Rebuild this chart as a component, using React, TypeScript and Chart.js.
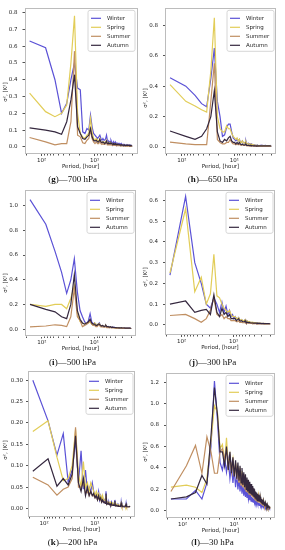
import React, { useEffect, useRef } from 'react';
import { Chart, registerables } from 'chart.js';

Chart.register(...registerables);

// ---------------- DATA ----------------
const PERIODS = [
  168, 84, 56, 42, 33.6, 28, 24, 21, 18.67, 16.8,
  15.27, 14, 12.92, 12, 11.2, 10.5, 9.88, 9.33, 8.84, 8.4,
  8, 7.64, 7.3, 7, 6.72, 6.46, 6.22, 6, 5.79, 5.6,
  5.42, 5.25, 5.09, 4.94, 4.8, 4.67, 4.54, 4.42, 4.31, 4.2,
  4.1, 4, 3.91, 3.82, 3.73, 3.65, 3.57, 3.5, 3.43, 3.36,
  3.29, 3.23, 3.17, 3.11, 3.05, 3, 2.95, 2.9, 2.85, 2.8,
  2.75, 2.71, 2.67, 2.63, 2.58, 2.55, 2.51, 2.47, 2.43, 2.4,
  2.37, 2.33, 2.3, 2.27, 2.24, 2.21, 2.18, 2.15, 2.13, 2.1,
  2.07, 2.05, 2.02, 2.0,
];

const SEASONS = ['Winter', 'Spring', 'Summer', 'Autumn'];
const PANEL_LETTERS = ['g', 'h', 'i', 'j', 'k', 'l'];
const PANEL_LEVELS = ['700 hPa', '650 hPa', '500 hPa', '300 hPa', '200 hPa', '30 hPa'];
const X_LABEL = 'Period, [hour]';
const Y_LABEL = 'σ², [K²]';
const X_MAJOR = [100, 10];
const X_MAJOR_LABELS = ['10²', '10¹'];
const X_MINOR = [200, 90, 80, 70, 60, 50, 40, 30, 20, 9, 8, 7, 6, 5, 4, 3, 2];

// (g) 700 hPa
const G_WINTER = [
  0.63, 0.59, 0.40, 0.20, 0.26, 0.40, 0.50, 0.35, 0.34, 0.09,
  0.08, 0.11, 0.10, 0.19, 0.12, 0.08, 0.07, 0.06, 0.05, 0.06,
  0.07, 0.05, 0.04, 0.05, 0.04, 0.04, 0.05, 0.07, 0.04, 0.03,
  0.035, 0.03, 0.03, 0.04, 0.03, 0.025, 0.02, 0.03, 0.02, 0.025,
  0.03, 0.02, 0.022, 0.02, 0.018, 0.022, 0.02, 0.018, 0.015, 0.02,
  0.018, 0.015, 0.02, 0.015, 0.014, 0.018, 0.014, 0.015, 0.012, 0.015,
  0.012, 0.014, 0.012, 0.012, 0.01, 0.012, 0.01, 0.012, 0.01, 0.01,
  0.012, 0.01, 0.01, 0.01, 0.012, 0.01, 0.009, 0.01, 0.008, 0.01,
  0.01, 0.008, 0.01, 0.009,
];
const G_SPRING = [
  0.32, 0.21, 0.18, 0.20, 0.25, 0.50, 0.78, 0.20, 0.08, 0.06,
  0.05, 0.07, 0.08, 0.17, 0.09, 0.05, 0.04, 0.05, 0.04, 0.03,
  0.05, 0.03, 0.025, 0.03, 0.03, 0.025, 0.03, 0.04, 0.02, 0.02,
  0.025, 0.02, 0.02, 0.025, 0.02, 0.018, 0.015, 0.02, 0.015, 0.018,
  0.02, 0.015, 0.015, 0.014, 0.013, 0.015, 0.013, 0.012, 0.011, 0.013,
  0.012, 0.011, 0.013, 0.011, 0.01, 0.012, 0.01, 0.01, 0.009, 0.01,
  0.009, 0.01, 0.009, 0.009, 0.008, 0.009, 0.008, 0.009, 0.008, 0.008,
  0.009, 0.008, 0.008, 0.008, 0.009, 0.008, 0.007, 0.008, 0.007, 0.008,
  0.008, 0.007, 0.008, 0.008,
];
const G_SUMMER = [
  0.056, 0.03, 0.012, 0.02, 0.02, 0.15, 0.57, 0.07, 0.06, 0.025,
  0.02, 0.04, 0.05, 0.10, 0.05, 0.03, 0.02, 0.03, 0.02, 0.02,
  0.04, 0.02, 0.015, 0.02, 0.015, 0.015, 0.02, 0.03, 0.012, 0.012,
  0.015, 0.012, 0.012, 0.015, 0.012, 0.01, 0.01, 0.012, 0.009, 0.01,
  0.012, 0.009, 0.009, 0.009, 0.008, 0.009, 0.008, 0.008, 0.007, 0.008,
  0.008, 0.007, 0.008, 0.007, 0.007, 0.008, 0.007, 0.007, 0.006, 0.007,
  0.006, 0.007, 0.006, 0.006, 0.006, 0.006, 0.005, 0.006, 0.005, 0.005,
  0.006, 0.005, 0.005, 0.005, 0.006, 0.005, 0.005, 0.005, 0.005, 0.005,
  0.005, 0.005, 0.005, 0.006,
];
const G_AUTUMN = [
  0.113, 0.10, 0.09, 0.075, 0.15, 0.28, 0.43, 0.12, 0.08, 0.05,
  0.045, 0.06, 0.07, 0.11, 0.06, 0.04, 0.035, 0.04, 0.03, 0.03,
  0.045, 0.03, 0.025, 0.03, 0.025, 0.02, 0.025, 0.035, 0.02, 0.02,
  0.025, 0.02, 0.02, 0.025, 0.02, 0.018, 0.016, 0.02, 0.015, 0.018,
  0.02, 0.016, 0.016, 0.015, 0.014, 0.016, 0.014, 0.013, 0.012, 0.014,
  0.013, 0.012, 0.014, 0.012, 0.011, 0.013, 0.011, 0.011, 0.01, 0.011,
  0.01, 0.011, 0.01, 0.01, 0.009, 0.01, 0.009, 0.01, 0.009, 0.009,
  0.01, 0.009, 0.009, 0.009, 0.01, 0.009, 0.008, 0.009, 0.008, 0.009,
  0.009, 0.008, 0.009, 0.009,
];

// (h) 650 hPa
const H_WINTER = [
  0.455, 0.40, 0.34, 0.285, 0.265, 0.45, 0.65, 0.30, 0.20, 0.07,
  0.08, 0.13, 0.15, 0.15, 0.10, 0.06, 0.05, 0.04, 0.05, 0.04,
  0.05, 0.03, 0.03, 0.04, 0.03, 0.025, 0.03, 0.04, 0.02, 0.02,
  0.025, 0.02, 0.02, 0.02, 0.015, 0.02, 0.015, 0.015, 0.012, 0.015,
  0.012, 0.012, 0.01, 0.012, 0.01, 0.01, 0.012, 0.01, 0.01, 0.008,
  0.01, 0.01, 0.008, 0.01, 0.008, 0.01, 0.008, 0.008, 0.01, 0.008,
  0.008, 0.01, 0.008, 0.008, 0.007, 0.008, 0.01, 0.008, 0.007, 0.008,
  0.008, 0.007, 0.008, 0.007, 0.008, 0.01, 0.007, 0.008, 0.007, 0.008,
  0.01, 0.008, 0.009, 0.012,
];
const H_SPRING = [
  0.41, 0.30, 0.27, 0.245, 0.23, 0.50, 0.85, 0.20, 0.12, 0.10,
  0.10, 0.14, 0.12, 0.12, 0.09, 0.07, 0.06, 0.05, 0.06, 0.04,
  0.05, 0.03, 0.03, 0.04, 0.03, 0.025, 0.03, 0.035, 0.02, 0.02,
  0.022, 0.018, 0.018, 0.02, 0.015, 0.018, 0.014, 0.015, 0.012, 0.014,
  0.012, 0.011, 0.01, 0.012, 0.01, 0.01, 0.011, 0.01, 0.009, 0.008,
  0.01, 0.009, 0.008, 0.009, 0.008, 0.009, 0.008, 0.008, 0.009, 0.008,
  0.008, 0.009, 0.008, 0.008, 0.007, 0.008, 0.009, 0.008, 0.007, 0.008,
  0.008, 0.007, 0.008, 0.007, 0.008, 0.009, 0.007, 0.008, 0.007, 0.008,
  0.009, 0.008, 0.008, 0.01,
];
const H_SUMMER = [
  0.032, 0.02, 0.015, 0.015, 0.015, 0.30, 0.55, 0.05, 0.03, 0.02,
  0.02, 0.03, 0.03, 0.05, 0.03, 0.02, 0.02, 0.015, 0.02, 0.015,
  0.02, 0.012, 0.012, 0.015, 0.01, 0.01, 0.012, 0.015, 0.008, 0.008,
  0.01, 0.008, 0.008, 0.009, 0.007, 0.008, 0.007, 0.007, 0.006, 0.007,
  0.006, 0.006, 0.006, 0.006, 0.005, 0.006, 0.005, 0.005, 0.005, 0.005,
  0.005, 0.005, 0.005, 0.005, 0.005, 0.005, 0.005, 0.005, 0.005, 0.005,
  0.005, 0.005, 0.005, 0.005, 0.005, 0.005, 0.005, 0.005, 0.005, 0.005,
  0.005, 0.005, 0.005, 0.005, 0.005, 0.005, 0.005, 0.005, 0.005, 0.005,
  0.005, 0.005, 0.005, 0.006,
];
const H_AUTUMN = [
  0.105, 0.07, 0.05, 0.07, 0.12, 0.20, 0.37, 0.10, 0.04, 0.03,
  0.05, 0.04, 0.06, 0.07, 0.04, 0.03, 0.03, 0.02, 0.03, 0.02,
  0.03, 0.02, 0.015, 0.02, 0.015, 0.012, 0.015, 0.02, 0.01, 0.01,
  0.012, 0.01, 0.01, 0.012, 0.009, 0.01, 0.009, 0.009, 0.008, 0.009,
  0.008, 0.008, 0.008, 0.008, 0.007, 0.008, 0.007, 0.007, 0.007, 0.007,
  0.007, 0.007, 0.007, 0.007, 0.007, 0.007, 0.007, 0.007, 0.007, 0.007,
  0.007, 0.007, 0.007, 0.007, 0.007, 0.007, 0.007, 0.007, 0.007, 0.007,
  0.007, 0.007, 0.007, 0.007, 0.007, 0.007, 0.007, 0.007, 0.007, 0.007,
  0.008, 0.007, 0.008, 0.008,
];

// (i) 500 hPa
const I_WINTER = [
  1.05, 0.85, 0.63, 0.46, 0.29, 0.40, 0.57, 0.30, 0.15, 0.10,
  0.06, 0.04, 0.07, 0.125, 0.06, 0.04, 0.05, 0.04, 0.03, 0.04,
  0.05, 0.03, 0.025, 0.03, 0.025, 0.02, 0.025, 0.03, 0.02, 0.02,
  0.022, 0.018, 0.018, 0.02, 0.016, 0.016, 0.015, 0.016, 0.014, 0.015,
  0.014, 0.013, 0.013, 0.013, 0.012, 0.012, 0.012, 0.012, 0.011, 0.011,
  0.011, 0.011, 0.01, 0.011, 0.01, 0.01, 0.01, 0.01, 0.01, 0.01,
  0.01, 0.01, 0.009, 0.01, 0.009, 0.009, 0.009, 0.009, 0.009, 0.009,
  0.009, 0.009, 0.009, 0.008, 0.009, 0.008, 0.008, 0.009, 0.008, 0.008,
  0.008, 0.008, 0.009, 0.008,
];
const I_SPRING = [
  0.20, 0.185, 0.20, 0.20, 0.165, 0.25, 0.35, 0.13, 0.06, 0.05,
  0.04, 0.05, 0.05, 0.06, 0.04, 0.03, 0.05, 0.04, 0.03, 0.04,
  0.045, 0.03, 0.025, 0.03, 0.025, 0.02, 0.025, 0.03, 0.02, 0.02,
  0.02, 0.016, 0.016, 0.018, 0.015, 0.014, 0.013, 0.014, 0.012, 0.013,
  0.012, 0.011, 0.011, 0.012, 0.01, 0.011, 0.01, 0.01, 0.01, 0.009,
  0.01, 0.009, 0.009, 0.01, 0.009, 0.009, 0.008, 0.009, 0.008, 0.008,
  0.008, 0.008, 0.008, 0.008, 0.007, 0.008, 0.007, 0.008, 0.007, 0.007,
  0.007, 0.007, 0.007, 0.007, 0.007, 0.007, 0.007, 0.007, 0.007, 0.007,
  0.007, 0.007, 0.007, 0.008,
];
const I_SUMMER = [
  0.018, 0.025, 0.035, 0.03, 0.02, 0.10, 0.33, 0.10, 0.07, 0.02,
  0.03, 0.04, 0.05, 0.07, 0.04, 0.03, 0.03, 0.02, 0.02, 0.03,
  0.035, 0.02, 0.018, 0.02, 0.016, 0.015, 0.018, 0.02, 0.012, 0.012,
  0.014, 0.012, 0.012, 0.013, 0.011, 0.011, 0.01, 0.011, 0.009, 0.01,
  0.009, 0.009, 0.008, 0.009, 0.008, 0.008, 0.008, 0.008, 0.007, 0.007,
  0.007, 0.007, 0.007, 0.007, 0.007, 0.007, 0.006, 0.007, 0.006, 0.006,
  0.006, 0.006, 0.006, 0.006, 0.006, 0.006, 0.006, 0.006, 0.006, 0.006,
  0.006, 0.006, 0.006, 0.006, 0.006, 0.006, 0.006, 0.006, 0.006, 0.006,
  0.006, 0.006, 0.006, 0.007,
];
const I_AUTUMN = [
  0.20, 0.16, 0.14, 0.10, 0.085, 0.20, 0.44, 0.15, 0.08, 0.05,
  0.04, 0.05, 0.06, 0.08, 0.05, 0.04, 0.04, 0.03, 0.03, 0.04,
  0.04, 0.03, 0.025, 0.03, 0.025, 0.02, 0.025, 0.03, 0.02, 0.02,
  0.021, 0.017, 0.017, 0.019, 0.016, 0.015, 0.014, 0.015, 0.013, 0.014,
  0.013, 0.012, 0.012, 0.012, 0.011, 0.011, 0.011, 0.011, 0.01, 0.01,
  0.01, 0.01, 0.01, 0.01, 0.009, 0.01, 0.009, 0.009, 0.009, 0.009,
  0.009, 0.009, 0.008, 0.009, 0.008, 0.008, 0.008, 0.008, 0.008, 0.008,
  0.008, 0.008, 0.008, 0.008, 0.008, 0.008, 0.008, 0.008, 0.008, 0.008,
  0.008, 0.008, 0.008, 0.009,
];

// (j) 300 hPa
const J_WINTER = [
  0.24, 0.62, 0.30, 0.20, 0.10, 0.08, 0.13, 0.10, 0.06, 0.11,
  0.06, 0.09, 0.05, 0.07, 0.04, 0.05, 0.03, 0.04, 0.03, 0.03,
  0.035, 0.025, 0.02, 0.025, 0.02, 0.02, 0.02, 0.025, 0.015, 0.015,
  0.018, 0.014, 0.014, 0.015, 0.012, 0.012, 0.011, 0.012, 0.01, 0.011,
  0.01, 0.01, 0.009, 0.01, 0.009, 0.009, 0.008, 0.009, 0.008, 0.008,
  0.008, 0.008, 0.007, 0.008, 0.007, 0.007, 0.007, 0.007, 0.007, 0.007,
  0.007, 0.007, 0.006, 0.007, 0.006, 0.006, 0.006, 0.006, 0.006, 0.006,
  0.006, 0.006, 0.006, 0.006, 0.006, 0.006, 0.006, 0.006, 0.006, 0.006,
  0.006, 0.006, 0.006, 0.007,
];
const J_SPRING = [
  0.25, 0.56, 0.16, 0.23, 0.10, 0.15, 0.34, 0.14, 0.13, 0.10,
  0.08, 0.07, 0.06, 0.07, 0.05, 0.04, 0.04, 0.04, 0.03, 0.03,
  0.035, 0.025, 0.022, 0.025, 0.02, 0.02, 0.02, 0.025, 0.015, 0.015,
  0.018, 0.015, 0.014, 0.016, 0.013, 0.013, 0.012, 0.013, 0.011, 0.012,
  0.011, 0.01, 0.01, 0.011, 0.01, 0.009, 0.009, 0.009, 0.009, 0.008,
  0.008, 0.008, 0.008, 0.008, 0.008, 0.008, 0.007, 0.008, 0.007, 0.007,
  0.007, 0.007, 0.007, 0.007, 0.007, 0.007, 0.006, 0.007, 0.006, 0.006,
  0.006, 0.006, 0.006, 0.006, 0.006, 0.006, 0.006, 0.006, 0.006, 0.006,
  0.006, 0.006, 0.006, 0.007,
];
const J_SUMMER = [
  0.045, 0.05, 0.03, 0.012, 0.03, 0.07, 0.13, 0.05, 0.04, 0.05,
  0.03, 0.04, 0.03, 0.03, 0.02, 0.02, 0.02, 0.02, 0.015, 0.015,
  0.02, 0.012, 0.012, 0.012, 0.01, 0.01, 0.01, 0.012, 0.008, 0.008,
  0.009, 0.008, 0.008, 0.008, 0.007, 0.007, 0.007, 0.007, 0.006, 0.007,
  0.006, 0.006, 0.006, 0.006, 0.006, 0.006, 0.005, 0.006, 0.005, 0.005,
  0.005, 0.005, 0.005, 0.005, 0.005, 0.005, 0.005, 0.005, 0.005, 0.005,
  0.005, 0.005, 0.005, 0.005, 0.005, 0.005, 0.005, 0.005, 0.005, 0.005,
  0.005, 0.005, 0.005, 0.005, 0.005, 0.005, 0.005, 0.005, 0.005, 0.005,
  0.005, 0.005, 0.005, 0.006,
];
const J_AUTUMN = [
  0.10, 0.115, 0.06, 0.07, 0.075, 0.05, 0.145, 0.06, 0.04, 0.08,
  0.05, 0.06, 0.04, 0.05, 0.03, 0.03, 0.03, 0.03, 0.02, 0.025,
  0.03, 0.02, 0.018, 0.02, 0.015, 0.015, 0.015, 0.02, 0.012, 0.012,
  0.013, 0.011, 0.011, 0.012, 0.01, 0.01, 0.009, 0.01, 0.009, 0.009,
  0.009, 0.008, 0.008, 0.008, 0.008, 0.008, 0.007, 0.008, 0.007, 0.007,
  0.007, 0.007, 0.007, 0.007, 0.007, 0.007, 0.006, 0.007, 0.006, 0.006,
  0.006, 0.006, 0.006, 0.006, 0.006, 0.006, 0.006, 0.006, 0.006, 0.006,
  0.006, 0.006, 0.006, 0.006, 0.006, 0.006, 0.006, 0.006, 0.006, 0.006,
  0.006, 0.006, 0.006, 0.007,
];

// (k) 200 hPa
const K_WINTER = [
  0.30, 0.205, 0.125, 0.175, 0.062, 0.09, 0.16, 0.06, 0.135, 0.045,
  0.09, 0.04, 0.05, 0.04, 0.06, 0.04, 0.03, 0.035, 0.025, 0.04,
  0.02, 0.03, 0.02, 0.025, 0.015, 0.02, 0.015, 0.04, 0.012, 0.015,
  0.012, 0.015, 0.01, 0.012, 0.01, 0.015, 0.009, 0.01, 0.008, 0.01,
  0.008, 0.02, 0.008, 0.009, 0.007, 0.008, 0.007, 0.008, 0.006, 0.008,
  0.006, 0.007, 0.006, 0.007, 0.005, 0.015, 0.005, 0.006, 0.005, 0.006,
  0.005, 0.006, 0.005, 0.005, 0.004, 0.005, 0.004, 0.005, 0.004, 0.012,
  0.004, 0.004, 0.004, 0.004, 0.004, 0.004, 0.004, 0.004, 0.004, 0.004,
  0.004, 0.004, 0.004, 0.005,
];
const K_SPRING = [
  0.18, 0.205, 0.12, 0.065, 0.07, 0.10, 0.185, 0.08, 0.05, 0.11,
  0.05, 0.06, 0.04, 0.06, 0.05, 0.04, 0.03, 0.04, 0.03, 0.035,
  0.025, 0.03, 0.02, 0.03, 0.02, 0.02, 0.018, 0.03, 0.015, 0.015,
  0.015, 0.015, 0.012, 0.015, 0.012, 0.012, 0.01, 0.012, 0.01, 0.01,
  0.01, 0.015, 0.009, 0.01, 0.008, 0.009, 0.008, 0.008, 0.007, 0.008,
  0.007, 0.008, 0.007, 0.007, 0.006, 0.012, 0.006, 0.006, 0.005, 0.006,
  0.005, 0.006, 0.005, 0.005, 0.005, 0.005, 0.005, 0.005, 0.004, 0.008,
  0.004, 0.004, 0.004, 0.004, 0.004, 0.004, 0.004, 0.004, 0.004, 0.004,
  0.004, 0.004, 0.004, 0.005,
];
const K_SUMMER = [
  0.073, 0.055, 0.031, 0.045, 0.05, 0.07, 0.19, 0.05, 0.05, 0.06,
  0.035, 0.04, 0.03, 0.04, 0.03, 0.03, 0.025, 0.03, 0.02, 0.025,
  0.02, 0.02, 0.015, 0.02, 0.015, 0.015, 0.012, 0.025, 0.01, 0.012,
  0.01, 0.012, 0.009, 0.01, 0.008, 0.01, 0.008, 0.008, 0.007, 0.008,
  0.007, 0.012, 0.006, 0.007, 0.006, 0.006, 0.006, 0.006, 0.005, 0.006,
  0.005, 0.005, 0.005, 0.005, 0.005, 0.01, 0.005, 0.005, 0.004, 0.005,
  0.004, 0.005, 0.004, 0.004, 0.004, 0.004, 0.004, 0.004, 0.004, 0.007,
  0.004, 0.004, 0.004, 0.004, 0.004, 0.004, 0.004, 0.004, 0.004, 0.004,
  0.004, 0.004, 0.004, 0.004,
];
const K_AUTUMN = [
  0.087, 0.116, 0.052, 0.07, 0.055, 0.08, 0.17, 0.06, 0.04, 0.07,
  0.03, 0.05, 0.03, 0.04, 0.03, 0.035, 0.025, 0.03, 0.02, 0.03,
  0.02, 0.025, 0.015, 0.02, 0.015, 0.015, 0.012, 0.035, 0.01, 0.012,
  0.01, 0.012, 0.009, 0.01, 0.008, 0.012, 0.008, 0.008, 0.007, 0.008,
  0.007, 0.018, 0.006, 0.007, 0.006, 0.007, 0.006, 0.006, 0.005, 0.006,
  0.005, 0.006, 0.005, 0.005, 0.005, 0.012, 0.005, 0.005, 0.004, 0.005,
  0.004, 0.005, 0.004, 0.004, 0.004, 0.004, 0.004, 0.004, 0.004, 0.01,
  0.004, 0.004, 0.004, 0.004, 0.004, 0.004, 0.004, 0.004, 0.004, 0.004,
  0.004, 0.004, 0.004, 0.005,
];

// (l) 30 hPa
const L_WINTER = [
  0.11, 0.11, 0.19, 0.11, 0.26, 0.60, 1.21, 0.85, 0.45, 0.38,
  0.50, 0.36, 0.48, 0.30, 0.42, 0.26, 0.38, 0.22, 0.34, 0.20,
  0.30, 0.18, 0.27, 0.16, 0.25, 0.14, 0.22, 0.13, 0.20, 0.12,
  0.18, 0.11, 0.16, 0.10, 0.15, 0.09, 0.13, 0.085, 0.12, 0.08,
  0.11, 0.075, 0.10, 0.07, 0.09, 0.065, 0.085, 0.06, 0.08, 0.055,
  0.075, 0.05, 0.07, 0.048, 0.065, 0.045, 0.06, 0.042, 0.055, 0.04,
  0.05, 0.038, 0.048, 0.035, 0.045, 0.033, 0.042, 0.03, 0.04, 0.028,
  0.037, 0.027, 0.035, 0.025, 0.032, 0.024, 0.03, 0.022, 0.028, 0.021,
  0.026, 0.02, 0.024, 0.02,
];
const L_SPRING = [
  0.22, 0.24, 0.22, 0.17, 0.30, 0.65, 0.98, 0.92, 0.58, 0.62,
  0.45, 0.68, 0.42, 0.52, 0.38, 0.48, 0.33, 0.45, 0.31, 0.42,
  0.27, 0.40, 0.25, 0.37, 0.22, 0.34, 0.21, 0.32, 0.19, 0.29,
  0.17, 0.27, 0.16, 0.25, 0.15, 0.23, 0.14, 0.21, 0.13, 0.20,
  0.12, 0.19, 0.11, 0.17, 0.10, 0.16, 0.095, 0.15, 0.09, 0.14,
  0.085, 0.13, 0.08, 0.12, 0.075, 0.11, 0.07, 0.10, 0.065, 0.095,
  0.06, 0.09, 0.055, 0.085, 0.05, 0.08, 0.048, 0.07, 0.045, 0.065,
  0.042, 0.06, 0.04, 0.055, 0.036, 0.05, 0.034, 0.046, 0.032, 0.042,
  0.03, 0.038, 0.028, 0.034,
];
const L_SUMMER = [
  0.18, 0.42, 0.61, 0.35, 0.69, 0.55, 0.35, 0.35, 0.55, 0.58,
  0.48, 0.56, 0.40, 0.50, 0.36, 0.46, 0.32, 0.44, 0.29, 0.40,
  0.26, 0.38, 0.24, 0.35, 0.22, 0.33, 0.20, 0.30, 0.18, 0.28,
  0.17, 0.26, 0.155, 0.24, 0.145, 0.22, 0.135, 0.20, 0.125, 0.19,
  0.115, 0.18, 0.105, 0.165, 0.10, 0.155, 0.09, 0.14, 0.085, 0.13,
  0.08, 0.125, 0.075, 0.115, 0.07, 0.105, 0.065, 0.095, 0.06, 0.09,
  0.055, 0.085, 0.052, 0.08, 0.048, 0.075, 0.045, 0.068, 0.042, 0.062,
  0.04, 0.058, 0.037, 0.052, 0.035, 0.048, 0.032, 0.044, 0.03, 0.04,
  0.028, 0.036, 0.026, 0.032,
];
const L_AUTUMN = [
  0.11, 0.13, 0.17, 0.33, 0.25, 0.70, 1.15, 0.90, 0.55, 0.55,
  0.42, 0.60, 0.38, 0.55, 0.35, 0.50, 0.32, 0.47, 0.30, 0.45,
  0.28, 0.42, 0.26, 0.40, 0.24, 0.36, 0.22, 0.34, 0.20, 0.31,
  0.18, 0.29, 0.17, 0.27, 0.16, 0.25, 0.15, 0.23, 0.14, 0.21,
  0.13, 0.20, 0.12, 0.18, 0.11, 0.17, 0.10, 0.16, 0.095, 0.15,
  0.09, 0.14, 0.085, 0.13, 0.08, 0.12, 0.075, 0.11, 0.07, 0.10,
  0.065, 0.095, 0.06, 0.09, 0.055, 0.08, 0.05, 0.075, 0.05, 0.07,
  0.045, 0.065, 0.04, 0.06, 0.04, 0.055, 0.035, 0.05, 0.035, 0.045,
  0.03, 0.04, 0.03, 0.035,
];

const G_YTICKS = [0, 0.1, 0.2, 0.3, 0.4, 0.5, 0.6, 0.7, 0.8];
const H_YTICKS = [0, 0.2, 0.4, 0.6, 0.8];
const I_YTICKS = [0, 0.2, 0.4, 0.6, 0.8, 1.0];
const J_YTICKS = [0, 0.1, 0.2, 0.3, 0.4, 0.5, 0.6];
const K_YTICKS = [0, 0.05, 0.1, 0.15, 0.2, 0.25, 0.3];
const L_YTICKS = [0, 0.2, 0.4, 0.6, 0.8, 1.0, 1.2];

const SERIES = [
  [G_WINTER, G_SPRING, G_SUMMER, G_AUTUMN],
  [H_WINTER, H_SPRING, H_SUMMER, H_AUTUMN],
  [I_WINTER, I_SPRING, I_SUMMER, I_AUTUMN],
  [J_WINTER, J_SPRING, J_SUMMER, J_AUTUMN],
  [K_WINTER, K_SPRING, K_SUMMER, K_AUTUMN],
  [L_WINTER, L_SPRING, L_SUMMER, L_AUTUMN],
];
const Y_TICKS = [G_YTICKS, H_YTICKS, I_YTICKS, J_YTICKS, K_YTICKS, L_YTICKS];
const Y_DECIMALS = [1, 1, 1, 1, 2, 1];

// ---------------- STYLE / LAYOUT ----------------
const COLORS = ['#5b52d6', '#e2cd58', '#c08f62', '#35283f'];
const FONT = "'DejaVu Sans', sans-serif";
const TEXT_COLOR = '#262626';
const CELL_W = 145;
const CELL_H = 180;
const X_RANGE = { min: 1.6, max: 209.4 };
const Y_RANGES = [
  { min: -0.042, max: 0.825 },
  { min: -0.046, max: 0.912 },
  { min: -0.06, max: 1.125 },
  { min: -0.049, max: 0.649 },
  { min: -0.02, max: 0.321 },
  { min: -0.067, max: 1.282 },
];
const LAYOUT = [
  { cellX: 0, cellY: 0, L: 24.5, R: 137, T: 4, B: 154, ylabY: 92, capY: 179, ypad: 5 },
  { cellX: 140, cellY: 0, L: 165, R: 276, T: 3, B: 154, ylabY: 98, capY: 179, ypad: 5 },
  { cellX: 0, cellY: 182, L: 25, R: 136, T: 185, B: 336.5, ylabY: 283, capY: 361.5, ypad: 5 },
  { cellX: 140, cellY: 182, L: 165, R: 275, T: 185, B: 335, ylabY: 277, capY: 361.5, ypad: 5 },
  { cellX: 0, cellY: 365, L: 28, R: 135, T: 370, B: 517, ylabY: 450, capY: 541.5, ypad: 3 },
  { cellX: 140, cellY: 365, L: 166, R: 275, T: 370, B: 518, ylabY: 452, capY: 541.5, ypad: 5 },
];

function makeDecor(idx: number) {
  const lay = LAYOUT[idx];
  return {
    id: 'decor' + idx,
    afterDraw(chart: any) {
      const ctx = chart.ctx as CanvasRenderingContext2D;
      const a = chart.chartArea;
      const xs = chart.scales.x;
      ctx.save();
      // frame
      ctx.strokeStyle = '#bcbcbc';
      ctx.lineWidth = 1;
      ctx.strokeRect(Math.round(a.left) + 0.5, Math.round(a.top) + 0.5,
        Math.round(a.right - a.left) - 1, Math.round(a.bottom - a.top) - 1);
      // minor x ticks
      ctx.strokeStyle = '#555';
      ctx.beginPath();
      X_MINOR.forEach((v) => {
        if (v < X_RANGE.min || v > X_RANGE.max) return;
        const px = Math.round(xs.getPixelForValue(v)) + 0.5;
        ctx.moveTo(px, a.bottom);
        ctx.lineTo(px, a.bottom + 1.5);
      });
      ctx.stroke();
      // axis titles
      ctx.fillStyle = TEXT_COLOR;
      ctx.font = `5.5px ${FONT}`;
      ctx.textAlign = 'center';
      ctx.textBaseline = 'middle';
      ctx.fillText(X_LABEL, (a.left + a.right) / 2, a.bottom + 12.5);
      ctx.save();
      ctx.translate(6, lay.ylabY - lay.cellY);
      ctx.rotate(-Math.PI / 2);
      ctx.fillText(Y_LABEL, 0, 0);
      ctx.restore();
      // legend
      const bw = 47, bh = 41;
      const bx = a.right - 2 - bw, by = a.top + 2;
      ctx.beginPath();
      const r = 2;
      ctx.moveTo(bx + r, by);
      ctx.arcTo(bx + bw, by, bx + bw, by + bh, r);
      ctx.arcTo(bx + bw, by + bh, bx, by + bh, r);
      ctx.arcTo(bx, by + bh, bx, by, r);
      ctx.arcTo(bx, by, bx + bw, by, r);
      ctx.closePath();
      ctx.fillStyle = 'rgba(255,255,255,0.8)';
      ctx.fill();
      ctx.strokeStyle = '#d6d6d6';
      ctx.stroke();
      ctx.textAlign = 'left';
      SEASONS.forEach((s, i) => {
        const y = by + 8 + i * 9;
        ctx.strokeStyle = COLORS[i];
        ctx.lineWidth = 1.2;
        ctx.beginPath();
        ctx.moveTo(bx + 3, y);
        ctx.lineTo(bx + 13, y);
        ctx.stroke();
        ctx.fillStyle = TEXT_COLOR;
        ctx.fillText(s, bx + 19, y);
      });
      ctx.restore();
    },
  };
}

function Panel({ idx }: { idx: number }) {
  const ref = useRef<HTMLCanvasElement | null>(null);
  const lay = LAYOUT[idx];
  useEffect(() => {
    if (!ref.current) return;
    const series = SERIES[idx];
    const yt = Y_TICKS[idx];
    const dec = Y_DECIMALS[idx];
    const chart = new Chart(ref.current, {
      type: 'line',
      data: {
        datasets: SEASONS.map((s, i) => ({
          label: s,
          data: PERIODS.map((p, j) => ({ x: p, y: series[i][j] })),
          borderColor: COLORS[i],
          backgroundColor: COLORS[i],
          borderWidth: 1.2,
          pointRadius: 0,
          tension: 0,
          fill: false,
          order: 3 - i,
        })),
      },
      options: {
        responsive: false,
        maintainAspectRatio: false,
        animation: false,
        devicePixelRatio: 1,
        events: [],
        layout: {
          padding: {
            left: 0,
            top: lay.T - lay.cellY,
            right: lay.cellX + CELL_W - lay.R,
            bottom: 0,
          },
        },
        plugins: { legend: { display: false }, tooltip: { enabled: false } },
        scales: {
          x: {
            type: 'logarithmic',
            reverse: true,
            min: X_RANGE.min,
            max: X_RANGE.max,
            afterBuildTicks: (s: any) => {
              s.ticks = X_MAJOR.map((v) => ({ value: v, major: true }));
            },
            afterFit: (s: any) => {
              s.height = CELL_H - (lay.B - lay.cellY);
            },
            ticks: {
              autoSkip: false,
              maxRotation: 0,
              padding: 1,
              color: TEXT_COLOR,
              font: { size: 5.5, family: FONT },
              callback: (v: any) => {
                const k = X_MAJOR.indexOf(Number(v));
                return k >= 0 ? X_MAJOR_LABELS[k] : '';
              },
            },
            grid: { display: true, drawOnChartArea: false, drawTicks: true, tickLength: 2, tickColor: '#555' },
            border: { display: false },
          },
          y: {
            type: 'linear',
            min: Y_RANGES[idx].min,
            max: Y_RANGES[idx].max,
            afterBuildTicks: (s: any) => {
              s.ticks = yt.map((v) => ({ value: v }));
            },
            afterFit: (s: any) => {
              s.width = lay.L - lay.cellX;
            },
            ticks: {
              padding: lay.ypad,
              color: TEXT_COLOR,
              font: { size: 5.5, family: FONT },
              callback: (v: any) => Number(v).toFixed(dec),
            },
            grid: { display: true, drawOnChartArea: false, drawTicks: true, tickLength: 2, tickColor: '#555' },
            border: { display: false },
          },
        },
      } as any,
      plugins: [makeDecor(idx)],
    });
    return () => chart.destroy();
  }, [idx]);
  return (
    <canvas
      ref={ref}
      width={CELL_W}
      height={CELL_H}
      style={{ position: 'absolute', left: lay.cellX, top: lay.cellY, width: CELL_W, height: CELL_H }}
    />
  );
}

export default function App() {
  return (
    <div style={{ position: 'absolute', left: 0, top: 0, width: 285, height: 550, background: '#fff', overflow: 'hidden' }}>
      {LAYOUT.map((lay, i) => (
        <Panel key={'p' + i} idx={i} />
      ))}
      {LAYOUT.map((lay, i) => (
        <div
          key={'c' + i}
          style={{
            position: 'absolute',
            left: lay.cellX,
            top: lay.capY - 6,
            width: CELL_W,
            height: 12,
            lineHeight: '12px',
            textAlign: 'center',
            fontFamily: "'Liberation Serif', 'Times New Roman', serif",
            fontSize: 9,
            color: '#111',
            whiteSpace: 'nowrap',
          }}
        >
          (<b>{PANEL_LETTERS[i]}</b>)—{PANEL_LEVELS[i]}
        </div>
      ))}
    </div>
  );
}
